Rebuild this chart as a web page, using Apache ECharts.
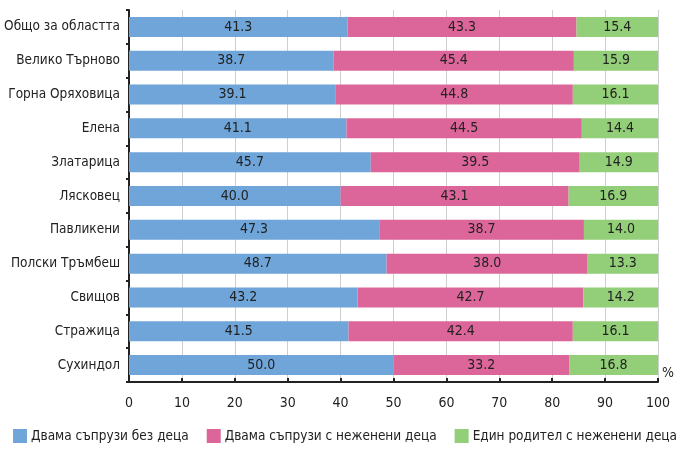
<!DOCTYPE html>
<html>
<head>
<meta charset="utf-8">
<script src="https://cdn.jsdelivr.net/npm/echarts@6/dist/echarts.min.js"></script>
<style>
html, body { margin: 0; padding: 0; background: #fff; }
#chart { width: 684px; height: 456px; }
</style>
</head>
<body>
<div id="chart"></div>
<script>
var categories = ['Общо за областта', 'Велико Търново', 'Горна Оряховица', 'Елена', 'Златарица',
    'Лясковец', 'Павликени', 'Полски Тръмбеш', 'Свищов', 'Стражица', 'Сухиндол'];
var seriesNames = ['Двама съпрузи без деца', 'Двама съпрузи с неженени деца', 'Един родител с неженени деца'];
var noKids = [41.3, 38.7, 39.1, 41.1, 45.7, 40.0, 47.3, 48.7, 43.2, 41.5, 50.0];
var withKids = [43.3, 45.4, 44.8, 44.5, 39.5, 43.1, 38.7, 38.0, 42.7, 42.4, 33.2];
var singleParent = [15.4, 15.9, 16.1, 14.4, 14.9, 16.9, 14.0, 13.3, 14.2, 16.1, 16.8];

var font = '"DejaVu Sans Condensed", "Liberation Sans Narrow", sans-serif';
var colors = ['#6fa5d8', '#dc6699', '#93cf78'];

var chart = echarts.init(document.getElementById('chart'));

function makeSeries(name, data) {
    return {
        name: name,
        type: 'bar',
        stack: 'total',
        barWidth: 20,
        data: data,
        label: {
            show: true,
            position: 'inside',
            color: '#222',
            fontFamily: font,
            fontSize: 14,
            formatter: function (p) { return p.value.toFixed(1); }
        }
    };
}

chart.setOption({
    animation: false,
    color: colors,
    textStyle: { fontFamily: font },
    grid: { left: 129, right: 26, top: 10, bottom: 74, outerBoundsMode: 'none' },
    legend: {
        bottom: 9,
        left: 9,
        right: 0,
        padding: 4,
        itemWidth: 14,
        itemHeight: 14,
        itemGap: 18,
        icon: 'rect',
        textStyle: { fontFamily: font, fontSize: 13.5, color: '#222', padding: [0, 0, 0, -1] },
        data: seriesNames
    },
    xAxis: {
        type: 'value',
        min: 0,
        max: 100,
        interval: 10,
        name: '%',
        nameLocation: 'end',
        nameGap: 4,
        nameTextStyle: { fontFamily: font, fontSize: 14, color: '#222', verticalAlign: 'bottom', padding: [0, 0, 2, 0] },
        axisLine: { show: true, lineStyle: { color: '#222', width: 2 } },
        axisTick: { show: true, inside: true, length: 4, lineStyle: { color: '#222', width: 2 } },
        axisLabel: { color: '#222', fontFamily: font, fontSize: 14, margin: 14 },
        splitLine: { show: true, lineStyle: { color: '#cfcfcf', width: 1 } }
    },
    yAxis: {
        type: 'category',
        data: categories,
        inverse: true,
        axisLine: { show: true, lineStyle: { color: '#222', width: 2 } },
        axisTick: { show: true, length: 3, lineStyle: { color: '#222', width: 2 } },
        axisLabel: { color: '#222', fontFamily: font, fontSize: 13.5, margin: 9 }
    },
    series: [
        makeSeries(seriesNames[0], noKids),
        makeSeries(seriesNames[1], withKids),
        makeSeries(seriesNames[2], singleParent)
    ]
});
</script>
</body>
</html>
